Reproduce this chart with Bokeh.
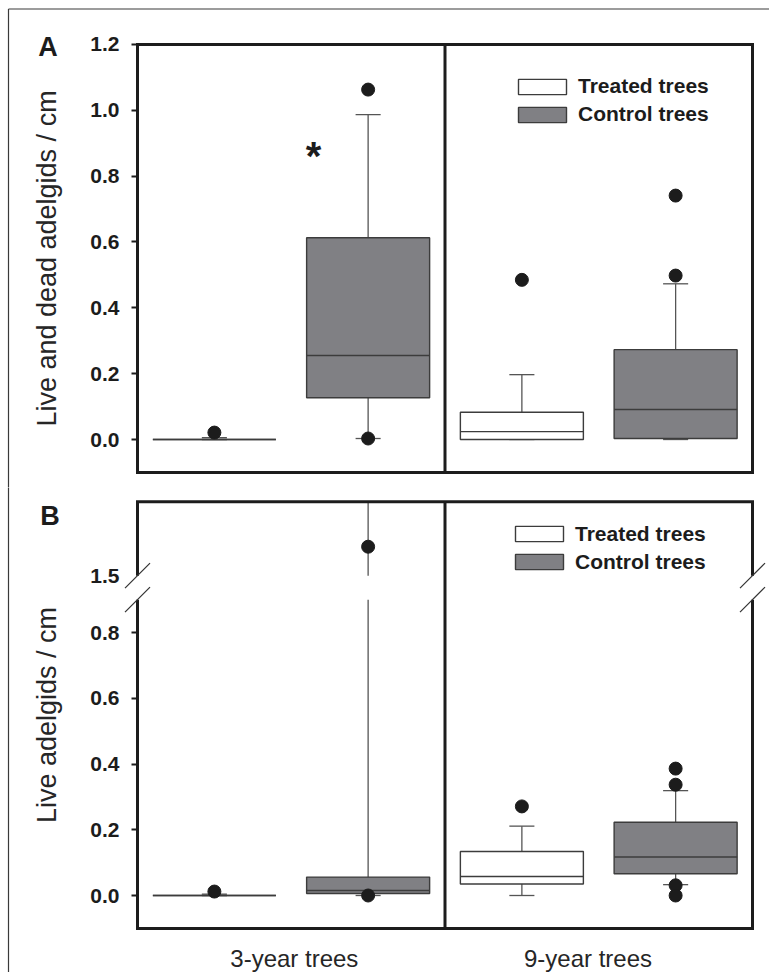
from bokeh.plotting import figure
from bokeh.models import ColumnDataSource, FixedTicker, Legend, LegendItem, Range1d, LinearAxis
from bokeh.layouts import column
from bokeh.embed import file_html
from bokeh.resources import INLINE
from bokeh.core.properties import value

# ---------------- data ----------------
GROUP_X = [1, 2, 3, 4]
IS_CONTROL = [False, True, False, True]
GROUP_LABELS = ["3-year trees", "9-year trees"]
GROUP_LABEL_X = [1.52, 3.43]
LEGEND_LABELS = ["Treated trees", "Control trees"]

# Panel A: live and dead adelgids / cm
A_Q1 = [0.0, 0.127, 0.0, 0.003]
A_MED = [0.0, 0.255, 0.024, 0.091]
A_Q3 = [0.0, 0.613, 0.083, 0.273]
A_WLO = [0.0, 0.003, 0.0, 0.0]
A_WHI = [0.006, 0.987, 0.197, 0.473]
A_OUT_X = [1, 2, 2, 3, 4, 4]
A_OUT_Y = [0.021, 1.063, 0.003, 0.485, 0.498, 0.741]
A_TICKS = [0.0, 0.2, 0.4, 0.6, 0.8, 1.0, 1.2]
A_TICK_LABELS = ["0.0", "0.2", "0.4", "0.6", "0.8", "1.0", "1.2"]
A_YLABEL = "Live and dead adelgids / cm"

# Panel B: live adelgids / cm (broken axis 0.9 -> 1.5)
B_Q1 = [0.0, 0.006, 0.035, 0.066]
B_MED = [0.0, 0.015, 0.058, 0.117]
B_Q3 = [0.0, 0.056, 0.134, 0.223]
B_WLO = [0.0, 0.0, 0.0, 0.033]
B_WHI = [0.004, 1.725, 0.211, 0.319]
B_OUT_X = [1, 2, 2, 3, 4, 4, 4, 4]
B_OUT_Y = [0.012, 1.588, 0.0, 0.271, 0.337, 0.386, 0.031, 0.0]
B_TICKS = [0.0, 0.2, 0.4, 0.6, 0.8]
B_TICK_LABELS = ["0.0", "0.2", "0.4", "0.6", "0.8"]
B_BREAK_LO = 0.9
B_BREAK_HI = 1.5
B_BREAK_LABEL = "1.5"
B_TOP = 1.725
B_YLABEL = "Live adelgids / cm"

STAR = "*"
STAR_X = 1.645
STAR_Y = 0.862

# ---------------- styles / geometry ----------------
FONT = "Liberation Sans"
INK = "#1c1c1c"
BOX_LINE = "#3c3c3c"
WHISKER = "#555555"
GRAY = "#808084"

W, HA, HB = 769, 487, 485
PXU_X, X_HALF_PX = 153.75, 137.0
PXU_YA, A_ZERO_PX = 329.17, 439.0
PXU_YB, B_ZERO_PX, B_CANVAS_TOP = 328.75, 895.0, 487.0
X_LO, X_HI, X_DIV = 0.5, 4.5, 2.5
Y_LO, A_TOP = -0.1, 1.2
BOX_W, CAP_W = 0.8, 0.163


def x_at(px):
    return 0.5 + (px - X_HALF_PX) / PXU_X


def ya_at(py):
    return (A_ZERO_PX - py) / PXU_YA


def yb_at(py):
    return (B_ZERO_PX - py) / PXU_YB


B_GAP = 24.0 / PXU_YB


def brk(v):
    return v if v <= B_BREAK_LO else B_BREAK_LO + B_GAP + (v - B_BREAK_HI)


def ident(v):
    return v


XR = (x_at(0), x_at(W))
YRA = (ya_at(HA), ya_at(0))
YRB = (yb_at(B_CANVAS_TOP + HB), yb_at(B_CANVAS_TOP))


def make_panel(height, yr, q1, med, q3, wlo, whi, out_x, out_y, f, broken):
    p = figure(width=W, height=height, x_range=Range1d(*XR), y_range=Range1d(*yr),
               output_backend="svg", toolbar_location=None, title=None,
               x_axis_location=("below" if broken else None), y_axis_location="left",
               min_border=0)
    p.outline_line_color = None
    p.grid.visible = False
    p.background_fill_color = "white"
    p.border_fill_color = "white"

    # whiskers
    w = dict(x0=[], y0=[], x1=[], y1=[])
    for x, lo, hi, a, b in zip(GROUP_X, q1, q3, wlo, whi):
        parts = [(lo, a)]
        if broken and b > B_BREAK_LO:
            parts += [(hi, B_BREAK_LO), (B_BREAK_HI, b)]
        else:
            parts += [(hi, b)]
        for s, e in parts:
            w["x0"].append(x); w["x1"].append(x)
            w["y0"].append(f(s)); w["y1"].append(f(e))
    p.segment("x0", "y0", "x1", "y1", source=ColumnDataSource(w),
              line_color=WHISKER, line_width=1.3)
    # caps
    c = dict(x0=[], y0=[], x1=[], y1=[])
    for x, a, b in zip(GROUP_X, wlo, whi):
        for v in (a, b):
            c["x0"].append(x - CAP_W / 2); c["x1"].append(x + CAP_W / 2)
            c["y0"].append(f(v)); c["y1"].append(f(v))
    p.segment("x0", "y0", "x1", "y1", source=ColumnDataSource(c),
              line_color=WHISKER, line_width=1.3)

    # boxes
    renderers = []
    for ctrl, fill in ((False, "white"), (True, GRAY)):
        d = dict(left=[], right=[], bottom=[], top=[])
        for x, lo, hi, isc in zip(GROUP_X, q1, q3, IS_CONTROL):
            if isc == ctrl:
                d["left"].append(x - BOX_W / 2); d["right"].append(x + BOX_W / 2)
                d["bottom"].append(f(lo)); d["top"].append(f(hi))
        r = p.quad(left="left", right="right", bottom="bottom", top="top",
                   source=ColumnDataSource(d), fill_color=fill,
                   line_color=BOX_LINE, line_width=1.4)
        renderers.append(r)
    # medians
    m = dict(x0=[x - BOX_W / 2 for x in GROUP_X], x1=[x + BOX_W / 2 for x in GROUP_X],
             y=[f(v) for v in med])
    p.segment("x0", "y", "x1", "y", source=ColumnDataSource(m),
              line_color=BOX_LINE, line_width=1.4)
    # outliers
    p.scatter(out_x, [f(v) for v in out_y], size=13, marker="circle",
              fill_color=INK, line_color=INK)

    # legend
    leg = Legend(items=[LegendItem(label=LEGEND_LABELS[0], renderers=[renderers[0]]),
                        LegendItem(label=LEGEND_LABELS[1], renderers=[renderers[1]])],
                 orientation="vertical", glyph_width=60, glyph_height=19,
                 label_height=19, spacing=4, padding=0, margin=0, label_standoff=6,
                 border_line_color=None, background_fill_alpha=0,
                 label_text_font=FONT, label_text_font_style="bold",
                 label_text_font_size="21px", label_text_color=INK)
    p.add_layout(leg)
    return p, leg


def style_yaxis(ax, ticks, labels, title, bounds):
    ax.fixed_location = X_LO
    ax.bounds = bounds
    ax.ticker = FixedTicker(ticks=ticks)
    ax.major_label_overrides = {t: l for t, l in zip(ticks, labels)}
    ax.minor_tick_line_color = None
    ax.major_tick_out = 6
    ax.major_tick_in = 0
    ax.major_tick_line_width = 2
    ax.major_tick_line_color = INK
    ax.axis_line_color = None
    ax.major_label_standoff = 12
    ax.major_label_text_font = FONT
    ax.major_label_text_font_style = "bold"
    ax.major_label_text_font_size = "21px"
    ax.major_label_text_color = INK
    if title:
        ax.axis_label = title
        ax.axis_label_text_font = FONT
        ax.axis_label_text_font_style = "normal"
        ax.axis_label_text_font_size = "27px"
        ax.axis_label_text_color = "#262626"
        ax.axis_label_standoff = 25


# ---------------- panel A ----------------
pA, legA = make_panel(HA, YRA, A_Q1, A_MED, A_Q3, A_WLO, A_WHI, A_OUT_X, A_OUT_Y, ident, False)
style_yaxis(pA.yaxis[0], A_TICKS, A_TICK_LABELS, A_YLABEL, (Y_LO, A_TOP + 0.001))
legA.location = (512, HA - 126)
pA.multi_line([[X_LO, X_HI, X_HI, X_LO, X_LO], [X_DIV, X_DIV]],
              [[Y_LO, Y_LO, A_TOP, A_TOP, Y_LO], [Y_LO, A_TOP]],
              line_color=INK, line_width=3, line_join="miter", line_cap="square")
pA.text([STAR_X], [STAR_Y], text=[STAR], text_font=value(FONT), text_font_style="bold",
        text_font_size="40px", text_align="center", text_baseline="middle", text_color=INK)
pA.text([x_at(47.5)], [ya_at(46.5)], text=["A"], text_font=value(FONT), text_font_style="bold",
        text_font_size="27px", text_align="center", text_baseline="middle", text_color=INK)
# outer thin frame
pA.multi_line([[x_at(8), x_at(8)], [x_at(8), x_at(W + 5)]],
              [[ya_at(HA + 5), ya_at(8.5)], [ya_at(8.5), ya_at(8.5)]],
              line_color="#3a3a3a", line_width=1.2)

# ---------------- panel B ----------------
pB, legB = make_panel(HB, YRB, B_Q1, B_MED, B_Q3, B_WLO, B_WHI, B_OUT_X, B_OUT_Y, brk, True)
b_top = brk(B_TOP)
b_hi = brk(B_BREAK_HI)
style_yaxis(pB.yaxis[0], B_TICKS, B_TICK_LABELS, B_YLABEL, (Y_LO, b_top))
ax2 = LinearAxis()
pB.add_layout(ax2, "left")
style_yaxis(ax2, [b_hi], [B_BREAK_LABEL], None, (Y_LO, b_top))
ax2.major_tick_line_color = None
legB.location = (509, HB - (573.5 - B_CANVAS_TOP))

xa = pB.xaxis[0]
xa.fixed_location = Y_LO
xa.ticker = FixedTicker(ticks=GROUP_LABEL_X)
xa.major_label_overrides = {t: l for t, l in zip(GROUP_LABEL_X, GROUP_LABELS)}
xa.major_tick_line_color = None
xa.minor_tick_line_color = None
xa.major_tick_out = 0
xa.major_tick_in = 0
xa.axis_line_color = None
xa.major_label_standoff = 17
xa.major_label_text_font = FONT
xa.major_label_text_font_size = "24px"
xa.major_label_text_color = "#262626"

pB.multi_line([[X_LO, X_LO, X_HI, X_HI], [X_LO, X_LO, X_HI, X_HI], [X_DIV, X_DIV]],
              [[b_hi, b_top, b_top, b_hi], [B_BREAK_LO, Y_LO, Y_LO, B_BREAK_LO], [Y_LO, b_top]],
              line_color=INK, line_width=3, line_join="miter")
dx, dy = 12.5 / PXU_X, 12.5 / PXU_YB
sl = dict(x0=[], y0=[], x1=[], y1=[])
for xc in (X_LO, X_HI):
    for yc in (B_BREAK_LO, b_hi):
        sl["x0"].append(xc - dx); sl["y0"].append(yc - dy)
        sl["x1"].append(xc + dx); sl["y1"].append(yc + dy)
pB.segment("x0", "y0", "x1", "y1", source=ColumnDataSource(sl), line_color="#333333", line_width=1.2)
pB.text([x_at(49.5)], [yb_at(515)], text=["B"], text_font=value(FONT), text_font_style="bold",
        text_font_size="27px", text_align="center", text_baseline="middle", text_color=INK)
pB.segment([x_at(8)], [yb_at(B_CANVAS_TOP - 5)], [x_at(8)], [yb_at(B_CANVAS_TOP + HB + 5)],
           line_color="#3a3a3a", line_width=1.2)

layout = column(pA, pB, spacing=0)
open("out.html", "w").write(file_html(layout, INLINE))
